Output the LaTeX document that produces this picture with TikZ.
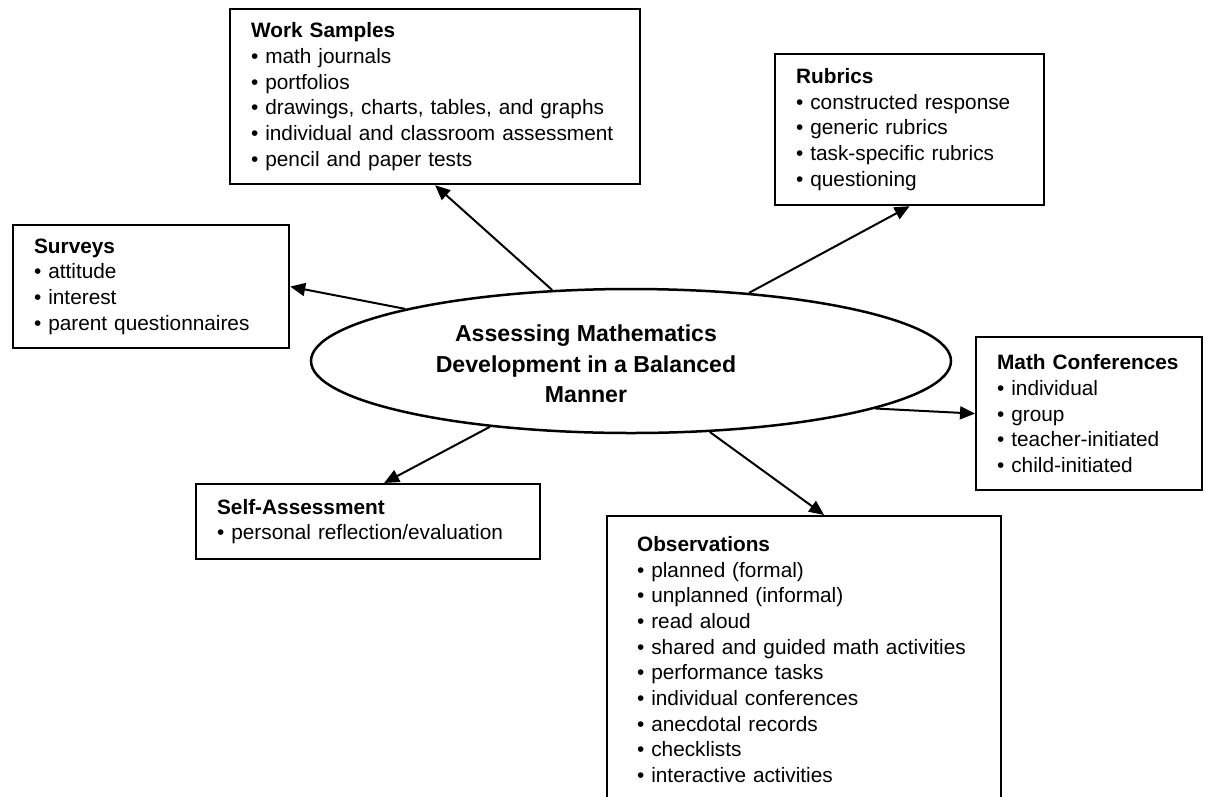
\documentclass[tikz,border=0pt]{standalone}
\usepackage{fontspec}
\setmainfont{Liberation Sans}
\usetikzlibrary{shapes.geometric,arrows.meta}
\newcommand{\nohyphens}{\hyphenpenalty=10000\relax\exhyphenpenalty=10000\relax}
\begin{document}
\begin{tikzpicture}[x=1pt,y=-1pt,
  box/.style={draw, line width=2.2pt, anchor=north west, align=left,
    inner xsep=21pt, inner ysep=0pt,
    font=\fontsize{20.8}{25.7}\selectfont},
  conn/.style={line width=2pt, -{Triangle[length=15pt,width=13pt]}},
  hub/.style={draw, ellipse, line width=2.5pt, inner sep=0pt,
    minimum width=640pt, minimum height=144pt},
  hubtext/.style={align=center, font=\bfseries\fontsize{23.1}{30.5}\selectfont}
  ]
\useasboundingbox (0,0) rectangle (1205,796);
\fill[white] (0,0) rectangle (1205,796);
\clip (0,0) rectangle (1205,796);

\node[hub] (ell) at (631,361) {};
\node[hubtext] (title) at (586,364) {Assessing Mathematics\\Development in a Balanced\\Manner};

\node[box, minimum height=175pt, text width=368pt] (work) at (229,8)
  {\nohyphens\textbf{Work Samples}\\• math journals\\• portfolios\\• drawings, charts, tables, and graphs\\• individual and classroom assessment\\• pencil and paper tests};

\node[box, minimum height=151pt, text width=227pt] (rubrics) at (774,53)
  {\nohyphens\textbf{Rubrics}\\• constructed response\\• generic rubrics\\• task-specific rubrics\\• questioning};

\node[box, minimum height=123pt, text width=234pt] (surveys) at (12,224)
  {\nohyphens\textbf{Surveys}\\• attitude\\• interest\\• parent questionnaires};

\node[box, minimum height=153pt, text width=184pt] (mathconf) at (975,336)
  {\nohyphens\textbf{Math Conferences}\\• individual\\• group\\• teacher-initiated\\• child-initiated};

\node[box, minimum height=75pt, text width=302pt] (self) at (195,483)
  {\nohyphens\textbf{Self-Assessment}\\• personal reflection/evaluation};

\node[box, inner xsep=30pt, minimum height=287pt, text width=334pt] (obs) at (606,515)
  {\nohyphens\textbf{Observations}\\• planned (formal)\\• unplanned (informal)\\• read aloud\\• shared and guided math activities\\• performance tasks\\• individual conferences\\• anecdotal records\\• checklists\\• interactive activities};

\draw[conn] (ell.138) -- (work.south);
\draw[conn] (ell.30.7) -- (rubrics.south);
\draw[conn] (ell.167.1) -- (surveys.east);
\draw[conn] (ell.-11) -- (mathconf.west);
\draw[conn] (ell.205.1) -- ([xshift=16pt]self.north);
\draw[conn] (ell.-42.7) -- ([xshift=20pt]obs.north);
\end{tikzpicture}
\end{document}
